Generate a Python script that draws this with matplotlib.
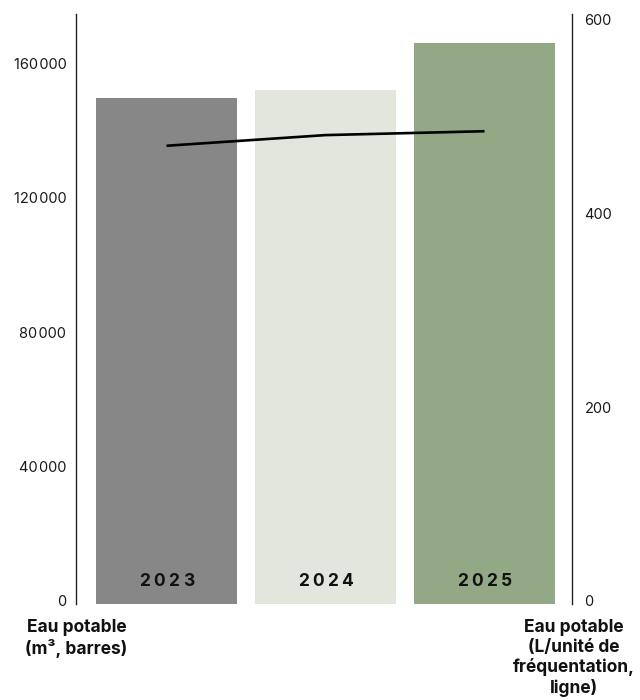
import matplotlib
matplotlib.use("Agg")
import matplotlib.pyplot as plt
from matplotlib.ticker import FuncFormatter
from matplotlib.transforms import ScaledTranslation

plt.rcParams['font.family'] = ['Inter', 'DejaVu Sans']

years = ["2023", "2024", "2025"]
volume_m3 = [150600, 152800, 166800]
litres_per_unit = [473, 484, 488]
bar_colors = ["#878787", "#e3e6dc", "#93a986"]
left_ticks = [0, 40000, 80000, 120000, 160000]
right_ticks = [0, 200, 400, 600]
left_label = "Eau potable\n(m³, barres)"
right_label = "Eau potable\n(L/unité de\nfréquentation,\nligne)"

fig = plt.figure(figsize=(6.4, 7.0), dpi=100)
ax = fig.add_axes([76/640, 1 - 604/700, (572-76)/640, (604-14)/700])
ax2 = ax.twinx()

x = list(range(len(years)))
ax.bar(x, volume_m3, width=0.887, color=bar_colors, zorder=1)
ax.set_xlim(-0.569, 2.55)
ax.set_ylim(0, 175500)
ax.set_yticks(left_ticks)
ax.yaxis.set_major_formatter(FuncFormatter(lambda v, p: f"{int(v):,}".replace(",", "\u200a")))
ax.set_xticks([])

ax2.plot(x, litres_per_unit, color="black", linewidth=1.9, solid_capstyle="butt", zorder=3)
ax2.set_ylim(0, 609)
ax2.set_yticks(right_ticks)

for a in (ax, ax2):
    for s in ("top", "bottom"):
        a.spines[s].set_visible(False)
    a.tick_params(axis="y", length=0, labelsize=10.5, colors="#1a1a1a")
ax.tick_params(axis="y", pad=7)
ax2.tick_params(axis="y", pad=9)
ax.spines["right"].set_visible(False)
ax2.spines["left"].set_visible(False)
ax.spines["left"].set_linewidth(1.0)
ax2.spines["right"].set_linewidth(1.0)
ax.spines["left"].set_color("#222222")
ax2.spines["right"].set_color("#222222")

shift = ScaledTranslation(0, 3/100, fig.dpi_scale_trans)
fig.canvas.draw()
for a in (ax, ax2):
    for lbl in a.get_yticklabels():
        lbl.set_transform(lbl.get_transform() + shift)

# year labels inside bars, letter-spaced
for xi, yr in zip(x, years):
    n = len(yr)
    pitch = 14.0
    for k, ch in enumerate(yr):
        off = (k - (n - 1) / 2) * pitch
        ax.annotate(ch, xy=(xi, 0), xycoords="data", xytext=(off * 0.75, 16),
                    textcoords="offset points", ha="center", va="center",
                    fontsize=12.5, fontweight="bold", color="#111111", zorder=4)

fig.text(76.5/640, 1 - 619/700, left_label, ha="center", va="top",
         fontsize=12.5, fontweight="bold", linespacing=1.2, color="#111111")
fig.text(574/640, 1 - 619/700, right_label, ha="center", va="top",
         fontsize=12.5, fontweight="bold", linespacing=1.2, color="#111111",
         multialignment="center")

fig.savefig("out.png", dpi=100)
